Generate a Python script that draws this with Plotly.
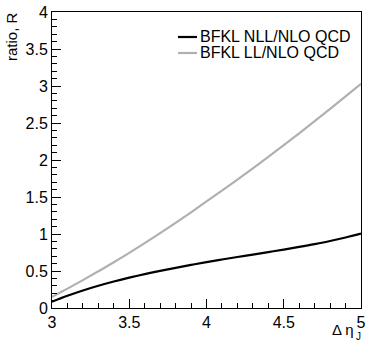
import plotly.graph_objects as go

deta = [3.0, 3.1, 3.2, 3.3, 3.4, 3.5, 3.6, 3.7, 3.8, 3.9, 4.0,
        4.1, 4.2, 4.3, 4.4, 4.5, 4.6, 4.7, 4.8, 4.9, 5.0]
nll_ratio = [0.085, 0.165, 0.237, 0.301, 0.358, 0.410, 0.458, 0.502, 0.543, 0.582, 0.620,
             0.655, 0.689, 0.722, 0.756, 0.790, 0.826, 0.864, 0.906, 0.953, 1.005]
ll_ratio = [0.150, 0.262, 0.377, 0.496, 0.618, 0.745, 0.876, 1.011, 1.150, 1.293, 1.440,
            1.586, 1.735, 1.887, 2.042, 2.200, 2.361, 2.525, 2.691, 2.859, 3.030]
series_names = ["BFKL NLL/NLO QCD", "BFKL LL/NLO QCD"]
series_colors = ["black", "#b0b0b0"]
x_ticks = [3, 3.5, 4, 4.5, 5]
x_labels = ["3", "3.5", "4", "4.5", "5"]
y_ticks = [0, 0.5, 1, 1.5, 2, 2.5, 3, 3.5, 4]
y_labels = ["0", "0.5", "1", "1.5", "2", "2.5", "3", "3.5", "4"]

FONT = "Liberation Sans, Arial, sans-serif"
W, H = 367, 342
ML, MR, MT, MB = 52, 6, 12, 34
PW, PH = W - ML - MR, H - MT - MB


def px(x):
    return (x - ML) / PW


def py(y):
    return 1 - (y - MT) / PH


fig = go.Figure()
for yv, name, col in zip([nll_ratio, ll_ratio], series_names, series_colors):
    fig.add_trace(go.Scatter(x=deta, y=yv, mode="lines", name=name, showlegend=False,
                             line=dict(color=col, width=2.2, shape="spline")))

fig.update_layout(
    width=W, height=H,
    margin=dict(l=ML, r=MR, t=MT, b=MB, autoexpand=False),
    paper_bgcolor="white", plot_bgcolor="white",
    font=dict(family=FONT, size=15, color="black"),
    showlegend=False,
    xaxis=dict(range=[3, 5], tickvals=x_ticks, ticktext=x_labels,
               showline=True, linecolor="black", linewidth=1, mirror=True,
               ticks="inside", ticklen=9, tickcolor="black", showgrid=False,
               zeroline=False, tickfont=dict(size=16, family=FONT),
               ticklabeloverflow="allow", automargin=False,
               minor=dict(dtick=0.1, ticks="inside", ticklen=5, tickcolor="black", showgrid=False)),
    yaxis=dict(range=[0, 4], tickvals=y_ticks, ticktext=y_labels,
               showline=True, linecolor="black", linewidth=1, mirror=True,
               ticks="inside", ticklen=9, tickcolor="black", showgrid=False,
               zeroline=False, tickfont=dict(size=16, family=FONT),
               ticklabeloverflow="allow", automargin=False,
               minor=dict(dtick=0.1, ticks="inside", ticklen=5, tickcolor="black", showgrid=False)),
)

# legend (ROOT TLegend style): short line sample + label
for i, (name, col) in enumerate(zip(series_names, series_colors)):
    row_y = 37 + 16 * i
    fig.add_shape(type="line", xref="paper", yref="paper",
                  x0=px(178), x1=px(197), y0=py(row_y), y1=py(row_y),
                  line=dict(color=col, width=2.2))
    fig.add_annotation(text=name, xref="paper", yref="paper", x=px(198), y=py(row_y),
                       xanchor="left", yanchor="middle", showarrow=False,
                       font=dict(size=16, family=FONT))

fig.add_annotation(text="ratio, R", xref="paper", yref="paper", x=px(12), y=py(37),
                   xanchor="center", yanchor="middle", textangle=-90, showarrow=False,
                   font=dict(size=15, family=FONT))
fig.add_annotation(text="Δ η", xref="paper", yref="paper", x=px(356), y=py(329),
                   xanchor="right", yanchor="middle", showarrow=False,
                   font=dict(size=15, family=FONT))
fig.add_annotation(text="J", xref="paper", yref="paper", x=px(358), y=py(336.5),
                   xanchor="center", yanchor="middle", showarrow=False,
                   font=dict(size=10, family=FONT))

fig.write_html("out.html", config={"displayModeBar": False},
               post_script="document.body.style.margin='0';document.body.style.overflow='hidden';")
